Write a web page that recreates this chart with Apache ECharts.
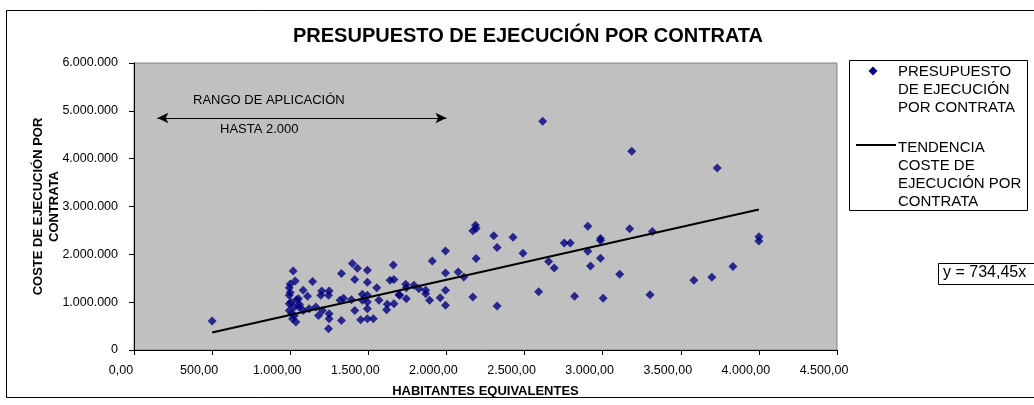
<!DOCTYPE html>
<html>
<head>
<meta charset="utf-8">
<script src="https://cdn.jsdelivr.net/npm/echarts@6/dist/echarts.min.js"></script>
<style>
html,body{margin:0;padding:0;background:#fff;}
#chart{width:1034px;height:405px;}
</style>
</head>
<body>
<div id="chart"></div>
<script>
// Habitantes equivalentes (x) and Presupuesto de ejecución por contrata (y, €)
const habitantes = [
  500,
  1019,1032,994,1143,1083,994,1053,1111,1202,1249,1196,1245,994,1026,1057,994,1026,1164,1206,1249,1181,1249,1015,1036,1245,1083,1121,
  1000,1005,1010,1000,1040,1060,
  1328,1398,1430,1494,1413,1494,1554,1660,1639,1664,1319,1341,1392,1462,1494,1462,1494,1568,1621,1664,1696,1494,1413,1617,1328,1451,1494,1532,
  2186,2169,2190,1994,1909,2190,1994,2075,2111,1739,1792,1743,1824,1867,1867,1994,1701,1743,1892,1960,1994,2169,
  2616,3186,2303,2426,2324,2490,2754,2793,2905,2905,2986,2986,2986,3173,3318,2654,2690,2922,3109,2324,2590,2820,3003,3303,
  3733,4000,4000,3834,3699,3584
];
const coste = [
  604000,
  1652000,1443000,1304000,1430000,1247000,1143000,1073000,1122000,1233000,1233000,1143000,1143000,968000,897000,897000,828000,723000,897000,828000,759000,723000,654000,654000,583000,444000,828000,863000,
  1200000,1000000,760000,1380000,1050000,950000,
  1597000,1807000,1709000,1667000,1472000,1415000,1304000,1778000,1457000,1472000,1038000,1080000,1052000,1163000,1143000,1038000,1002000,1038000,954000,968000,1157000,864000,828000,843000,618000,633000,654000,654000,
  2610000,2491000,2540000,2071000,1862000,1912000,1610000,1631000,1526000,1373000,1352000,1304000,1283000,1247000,1178000,1247000,1143000,1073000,1038000,1094000,933000,1107000,
  4784000,4155000,2386000,2358000,2142000,2023000,2239000,2239000,2589000,2065000,2331000,2290000,1918000,2533000,2478000,1849000,1715000,1757000,1583000,918000,1220000,1122000,1080000,1157000,
  3805000,2365000,2281000,1744000,1520000,1457000
];
// Trend line y = 734,45x (endpoints)
const trendX = [500, 4000];
const trendY = [367225, 2937800];
// Range of application arrow
const rangoX = [150, 2000];
const rangoY = 4850000;

const xTicks = {min: 0, max: 4500, interval: 500};
const yTicks = {min: 0, max: 6000000, interval: 1000000};

const titleText = 'PRESUPUESTO DE EJECUCIÓN POR CONTRATA';
const seriesName = 'PRESUPUESTO DE EJECUCIÓN POR CONTRATA';
const trendName = 'TENDENCIA COSTE DE EJECUCIÓN POR CONTRATA';

function fmtThousands(n){
  return String(n).replace(/\B(?=(\d{3})+(?!\d))/g, '.');
}

const FONT = 'Liberation Sans, Arial, sans-serif';
const chart = echarts.init(document.getElementById('chart'), null, {renderer: 'canvas'});

const option = {
  backgroundColor: '#fff',
  animation: false,
  title: {
    text: titleText,
    left: 523,
    textAlign: 'center',
    top: 21,
    textStyle: {fontFamily: FONT, fontSize: 20, fontWeight: 'bold', color: '#000'}
  },
  grid: {
    left: 134, top: 63, width: 703, bottom: 55,
    show: true, backgroundColor: '#C0C0C0', borderColor: '#808080', borderWidth: 1,
    containLabel: false
  },
  xAxis: {
    type: 'value',
    min: xTicks.min, max: xTicks.max, interval: xTicks.interval,
    name: 'HABITANTES EQUIVALENTES',
    nameLocation: 'middle',
    nameGap: 35,
    nameMoveOverlap: false,
    nameTextStyle: {fontFamily: FONT, fontSize: 13, fontWeight: 'bold', color: '#000'},
    axisLine: {show: true, lineStyle: {color: '#000', width: 1}},
    axisTick: {show: true, inside: false, length: 5, lineStyle: {color: '#000'}},
    splitLine: {show: false},
    axisLabel: {
      margin: 14, fontFamily: FONT, fontSize: 12.5, color: '#000',
      padding: [0, 26, 0, 0],
      formatter: v => fmtThousands(v) + ',00'
    }
  },
  yAxis: {
    type: 'value',
    min: yTicks.min, max: yTicks.max, interval: yTicks.interval,
    name: 'COSTE DE EJECUCIÓN POR\nCONTRATA',
    nameLocation: 'middle',
    nameRotate: 90,
    nameGap: 72,
    nameMoveOverlap: false,
    nameTextStyle: {fontFamily: FONT, fontSize: 13, fontWeight: 'bold', color: '#000', lineHeight: 16},
    axisLine: {show: true, lineStyle: {color: '#000', width: 1}},
    axisTick: {show: true, inside: false, length: 5, lineStyle: {color: '#000'}},
    splitLine: {show: false},
    axisLabel: {
      margin: 16, fontFamily: FONT, fontSize: 12.5, color: '#000',
      formatter: v => fmtThousands(v)
    }
  },
  series: [
    {
      name: seriesName,
      type: 'scatter',
      symbol: 'diamond',
      symbolSize: 9,
      itemStyle: {color: '#000080'},
      data: habitantes.map((x, i) => [x, coste[i]]),
      z: 3
    },
    {
      name: trendName,
      type: 'line',
      showSymbol: false,
      symbol: 'none',
      lineStyle: {color: '#000', width: 2},
      data: trendX.map((x, i) => [x, trendY[i]]),
      z: 4,
      markLine: {
        silent: true,
        symbol: ['arrow', 'arrow'],
        symbolSize: [8, 11],
        label: {show: false},
        lineStyle: {color: '#000', width: 1, type: 'solid'},
        data: [[{coord: [rangoX[0], rangoY]}, {coord: [rangoX[1], rangoY]}]]
      }
    }
  ],
  graphic: [
    // outer chart frame
    {type: 'rect', shape: {x: 6.5, y: 10.5, width: 1100, height: 387}, style: {fill: 'none', stroke: '#000', lineWidth: 1}, z: 0, silent: true},
    // range annotation
    {type: 'text', left: 193, top: 94, style: {text: 'RANGO DE APLICACIÓN', font: '13px ' + FONT, fill: '#000'}, z: 10},
    {type: 'text', left: 220, top: 123, style: {text: 'HASTA 2.000', font: '13px ' + FONT, fill: '#000'}, z: 10},
    // legend
    {type: 'rect', shape: {x: 849.5, y: 60.5, width: 178, height: 150}, style: {fill: '#fff', stroke: '#000', lineWidth: 1}, z: 10},
    {type: 'polygon', shape: {points: [[873, 66.5], [877.5, 71], [873, 75.5], [868.5, 71]]}, style: {fill: '#000080'}, z: 11},
    {type: 'text', left: 898, top: 63, style: {text: 'PRESUPUESTO\nDE EJECUCIÓN\nPOR CONTRATA', font: '15px ' + FONT, lineHeight: 18, fill: '#000'}, z: 11},
    {type: 'line', shape: {x1: 856, y1: 145, x2: 896, y2: 145}, style: {stroke: '#000', lineWidth: 2}, z: 11},
    {type: 'text', left: 898, top: 139, style: {text: 'TENDENCIA\nCOSTE DE\nEJECUCIÓN POR\nCONTRATA', font: '15px ' + FONT, lineHeight: 18, fill: '#000'}, z: 11},
    // equation box
    {type: 'rect', shape: {x: 938.5, y: 263.5, width: 120, height: 21}, style: {fill: '#fff', stroke: '#000', lineWidth: 1}, z: 10},
    {type: 'text', left: 943, top: 265, style: {text: 'y = 734,45x', font: '16px ' + FONT, fill: '#000'}, z: 11}
  ]
};
chart.setOption(option);
</script>
</body>
</html>
